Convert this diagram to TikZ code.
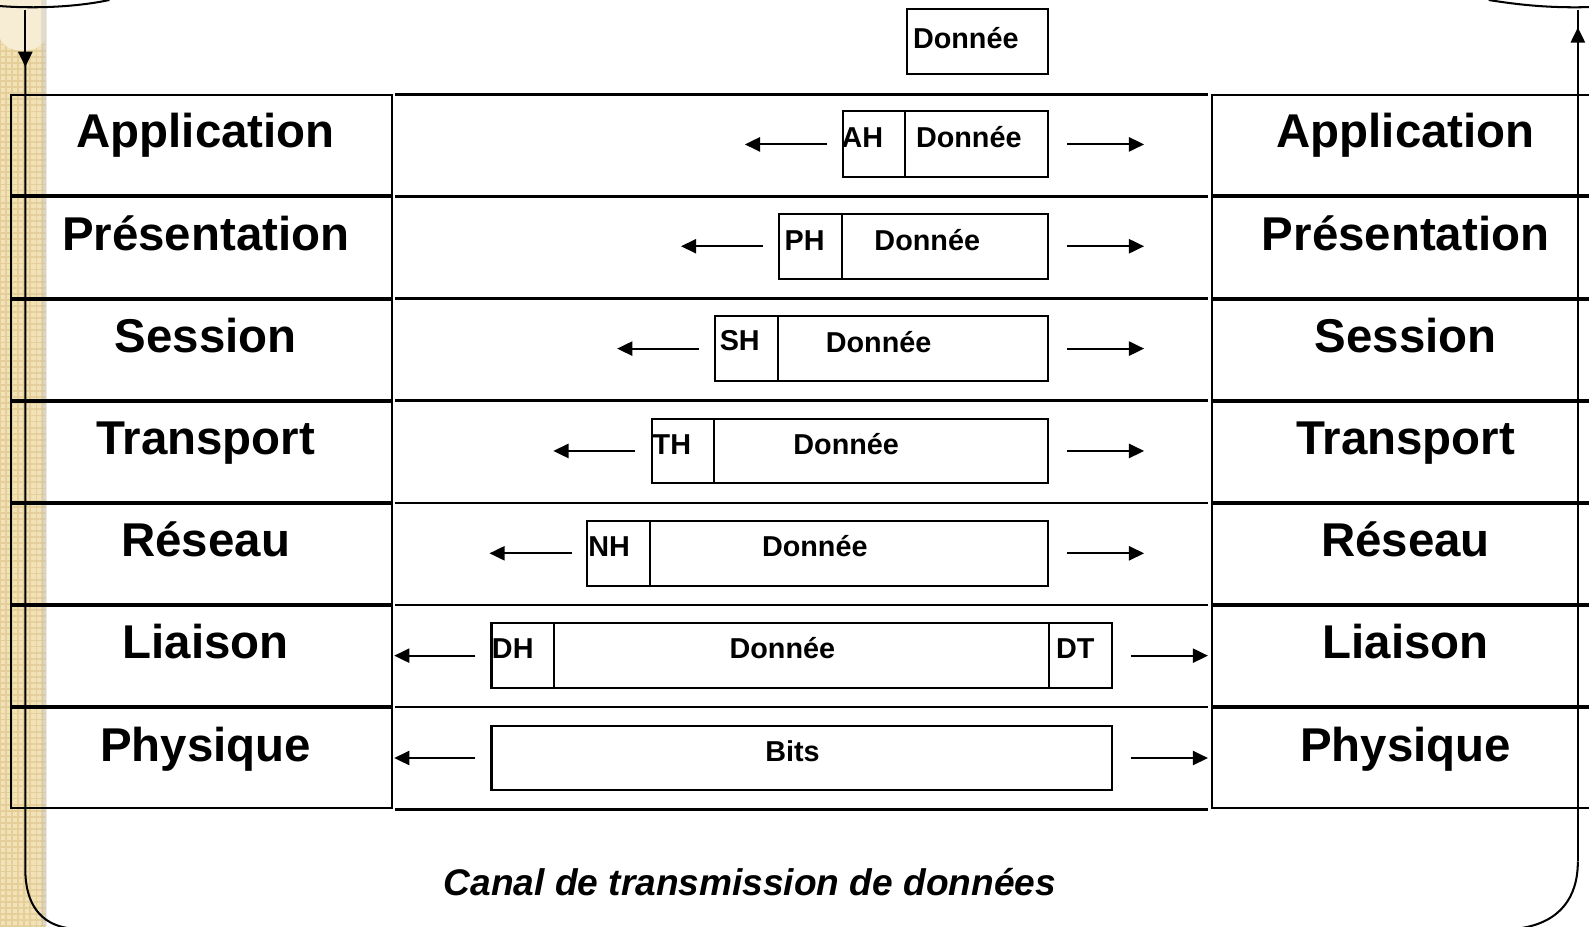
\documentclass[tikz,border=0pt]{standalone}
\usepackage{fontspec}
\setmainfont{Liberation Sans}
\usetikzlibrary{calc,arrows.meta,patterns.meta}
\definecolor{sable}{RGB}{242,226,182}
\definecolor{sablefonce}{RGB}{228,207,155}
\definecolor{creme}{RGB}{247,237,212}
\tikzset{
  couche/.style={line width=1pt},
  paquet/.style={line width=1pt},
  separ/.style={line width=1.3pt},
  cadre/.style={line width=1pt},
  fleche/.style={line width=1pt,-{Triangle[length=7.5pt,width=7pt]}},
  nomcouche/.style={anchor=base,inner sep=0pt,font=\fontsize{23.4}{28}\selectfont\bfseries},
  etiq/.style={anchor=base,inner sep=0pt,font=\fontsize{14.2}{17}\selectfont\bfseries},
}

\begin{document}
\begin{tikzpicture}[x=0.5pt,y=-0.5pt]
				\useasboundingbox (0,0) rectangle (1568,914);
				
				% bande de gauche
				\fill[sable] (0,0) rectangle (45,914);
				\fill[pattern={Lines[angle=0,distance=3pt,line width=0.9pt]},pattern color=sablefonce] (0,0) rectangle (45,914);
				\fill[pattern={Lines[angle=90,distance=3pt,line width=0.9pt]},pattern color=sablefonce] (0,0) rectangle (45,914);
				\fill[creme] (0,0) -- (0,38) .. controls (6,54) and (39,54) .. (45,38) -- (45,0) -- cycle;
				\fill[black!25,opacity=0.35] (40,0) rectangle (46,914);
				
				% couches a gauche
				\draw[couche] (11,94) rectangle (387,192.8);
				\draw[couche] (11,194.8) rectangle (387,293.6);
				\draw[couche] (11,295.6) rectangle (387,394.4);
				\draw[couche] (11,396.4) rectangle (387,495.2);
				\draw[couche] (11,497.2) rectangle (387,596);
				\draw[couche] (11,598) rectangle (387,696.8);
				\draw[couche] (11,698.8) rectangle (387,797.6);
				
				\node[nomcouche] (appG) at (203,146) {Application};
				\node[nomcouche] (preG) at (203,247) {Présentation};
				\node[nomcouche] (sesG) at (203,348) {Session};
				\node[nomcouche] (traG) at (203,448) {Transport};
				\node[nomcouche] (resG) at (203,549) {Réseau};
				\node[nomcouche] (liaG) at (203,650) {Liaison};
				\node[nomcouche] (phyG) at (203,751) {Physique};
				
				% couches a droite
				\draw[couche] (1196,94) rectangle (1575,192.8);
				\draw[couche] (1196,194.8) rectangle (1575,293.6);
				\draw[couche] (1196,295.6) rectangle (1575,394.4);
				\draw[couche] (1196,396.4) rectangle (1575,495.2);
				\draw[couche] (1196,497.2) rectangle (1575,596);
				\draw[couche] (1196,598) rectangle (1575,696.8);
				\draw[couche] (1196,698.8) rectangle (1575,797.6);
				
				\node[nomcouche] (appD) at (1387,146) {Application};
				\node[nomcouche] (preD) at (1387,247) {Présentation};
				\node[nomcouche] (sesD) at (1387,348) {Session};
				\node[nomcouche] (traD) at (1387,448) {Transport};
				\node[nomcouche] (resD) at (1387,549) {Réseau};
				\node[nomcouche] (liaD) at (1387,650) {Liaison};
				\node[nomcouche] (phyD) at (1387,751) {Physique};
				
				% separations du milieu
				\draw[separ] (390,93) -- (1192,93);
				\draw[separ] (390,193.8) -- (1192,193.8);
				\draw[separ] (390,294.6) -- (1192,294.6);
				\draw[separ] (390,395.4) -- (1192,395.4);
				\draw[separ] (390,496.2) -- (1192,496.2);
				\draw[separ] (390,597) -- (1192,597);
				\draw[separ] (390,697.8) -- (1192,697.8);
				\draw[separ] (390,798.6) -- (1192,798.6);
				
				% donnee seule
				\draw[paquet] (895,9) rectangle (1034,73);
				\node[etiq] (donnee0) at (953,48) {Donnée};
				
				% AH
				\draw[paquet] (832,110) coordinate (ahNO) rectangle (1034,175) coordinate (ahSE);
				\draw[paquet] (893,110) -- (893,175);
				\node[etiq] (ah) at (851,146) {AH};
				\node[etiq] (donnee1) at (956,146) {Donnée};
				\draw[fleche] ($(ahNO)+(-16,32.5)$) -- ++(-81,0);
				\draw[fleche] ($(ahSE)+(19,-32.5)$) -- ++(76,0);
				
				% PH
				\draw[paquet] (769,211) coordinate (phNO) rectangle (1034,275) coordinate (phSE);
				\draw[paquet] (831,211) -- (831,275);
				\node[etiq] (ph) at (794,247) {PH};
				\node[etiq] (donnee2) at (915,247) {Donnée};
				\draw[fleche] ($(phNO)+(-16,32)$) -- ++(-81,0);
				\draw[fleche] ($(phSE)+(19,-32)$) -- ++(76,0);
				
				% SH
				\draw[paquet] (706,312) coordinate (shNO) rectangle (1034,376) coordinate (shSE);
				\draw[paquet] (768,312) -- (768,376);
				\node[etiq] (sh) at (730,346) {SH};
				\node[etiq] (donnee3) at (867,348) {Donnée};
				\draw[fleche] ($(shNO)+(-16,32)$) -- ++(-81,0);
				\draw[fleche] ($(shSE)+(19,-32)$) -- ++(76,0);
				
				% TH
				\draw[paquet] (643,413) coordinate (thNO) rectangle (1034,477) coordinate (thSE);
				\draw[paquet] (705,413) -- (705,477);
				\node[etiq] (th) at (663,448) {TH};
				\node[etiq] (donnee4) at (835,448) {Donnée};
				\draw[fleche] ($(thNO)+(-16,32)$) -- ++(-81,0);
				\draw[fleche] ($(thSE)+(19,-32)$) -- ++(76,0);
				
				% NH
				\draw[paquet] (579,514) coordinate (nhNO) rectangle (1034,578) coordinate (nhSE);
				\draw[paquet] (641,514) -- (641,578);
				\node[etiq] (nh) at (601,549) {NH};
				\node[etiq] (donnee5) at (804,549) {Donnée};
				\draw[fleche] ($(nhNO)+(-15,32)$) -- ++(-81,0);
				\draw[fleche] ($(nhSE)+(19,-32)$) -- ++(76,0);
				
				% DH / DT
				\draw[paquet] (485,615) coordinate (dhNO) rectangle (1097,679) coordinate (dhSE);
				\draw[paquet] (547,615) -- (547,679);
				\draw[paquet] (1035,615) -- (1035,679);
				\node[etiq] (dh) at (506,650) {DH};
				\node[etiq] (donnee6) at (772,650) {Donnée};
				\node[etiq] (dt) at (1061,650) {DT};
				\draw[fleche] ($(dhNO)+(-16,32)$) -- ++(-80,0);
				\draw[fleche] ($(dhSE)+(19,-32)$) -- ++(76,0);
				
				% bits
				\draw[paquet] (485,716) coordinate (biNO) rectangle (1097,780) coordinate (biSE);
				\node[etiq] (bits) at (782,751) {Bits};
				\draw[fleche] ($(biNO)+(-16,32)$) -- ++(-80,0);
				\draw[fleche] ($(biSE)+(19,-32)$) -- ++(76,0);
				
				\node[anchor=base,inner sep=0pt,font=\fontsize{18.3}{22}\selectfont\bfseries\itshape] (canal) at (740,884) {Canal de transmission de données};
				
				% cadre
				\draw[cadre] (0,6) .. controls (40,9) and (80,6) .. (108,0);
				\draw[cadre] (1469,0) .. controls (1500,5) and (1530,8) .. (1568,7);
				\draw[fleche] (25,10) -- (25,66);
				\draw[cadre] (25,60) -- (25,858) .. controls (25,892) and (40,912) .. (68,916);
				\draw[fleche] (1557,850) -- (1557,27);
				\draw[cadre] (1557,32) -- (1557,10);
				\draw[cadre] (1557,850) .. controls (1557,885) and (1540,910) .. (1500,916);
			\end{tikzpicture}
\end{document}
